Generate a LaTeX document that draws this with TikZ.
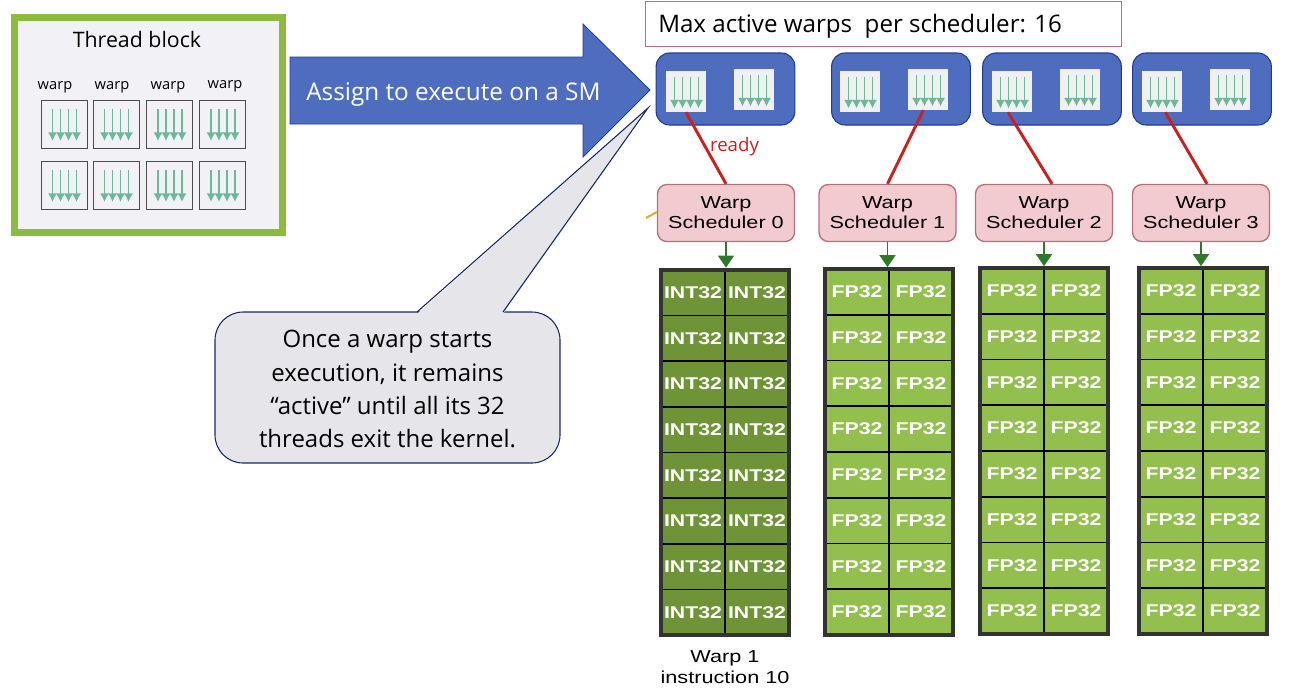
\documentclass[tikz,border=0pt]{standalone}
\usepackage{fontspec}
\setmainfont{Open Sans}
\newfontfamily\figfont[FakeStretch=1.25]{Liberation Sans}
\usepackage{tikz}
\usetikzlibrary{arrows.meta, fit}

\definecolor{slideblue}{HTML}{4F6DBF}
\definecolor{slidenavy}{HTML}{1F3A93}
\definecolor{threadgreen}{HTML}{6DB89A}
\definecolor{blockgreen}{HTML}{8CBC3F}
\definecolor{blockgrey}{HTML}{F2F1F5}
\definecolor{calloutgrey}{HTML}{E6E6EA}
\definecolor{intgreen}{HTML}{6F9438}
\definecolor{fpgreen}{HTML}{93BF4F}
\definecolor{schedpink}{HTML}{F2CBD0}
\definecolor{schedline}{HTML}{B5707E}
\definecolor{readyred}{HTML}{C9211E}
\definecolor{arrowgreen}{HTML}{2E7A28}
\definecolor{stubyellow}{HTML}{DAAA30}

\newcommand{\threadarrows}[1]{%
  \foreach \dx in {-11.5,-3.5,4.5,12.5}
    \draw[threadarrow] ([shift={(\dx,-15)}]#1.center) -- ([shift={(\dx,17)}]#1.center);
}

\begin{document}
\begin{tikzpicture}[
      x=0.75pt, y=-0.75pt,
      every node/.style={inner sep=0pt},
      threadarrow/.style={draw=threadgreen, line width=1.3pt, -{Latex[length=6.5pt,width=7pt]}},
      blocktile/.style={rectangle, draw=black!70, line width=0.7pt, minimum width=34.5pt, minimum height=36pt},
      smtile/.style={rectangle, fill=white!94!black, minimum width=30pt, minimum height=30.75pt},
      smbox/.style={rectangle, draw=slidenavy, line width=0.8pt, fill=slideblue, rounded corners=10pt, minimum width=104pt, minimum height=54pt},
      scheduler/.style={rectangle, draw=schedline, line width=1pt, fill=schedpink, rounded corners=7pt, minimum width=102.75pt, minimum height=42.75pt, align=center, font=\figfont\fontsize{13}{15}\selectfont},
      cell/.style={rectangle, outer sep=0pt, minimum width=48.4pt, minimum height=34.3pt, text=white, font=\figfont\bfseries\fontsize{12.75}{15}\selectfont},
      cellline/.style={draw=black, line width=1.3pt},
      gridframe/.style={rectangle, draw=black!80, line width=3pt, inner sep=0pt},
      readyline/.style={draw=readyred, line width=2.2pt},
      feedarrow/.style={draw=arrowgreen, line width=1.2pt, -{Triangle[length=9pt,width=12pt]}}
    ]
    \useasboundingbox (0,0) rectangle (1300,694);

    % Thread block
    \node[rectangle, draw=blockgreen, line width=5.25pt, fill=blockgrey, minimum width=201pt, minimum height=161.25pt] (block) at (148.5,125) {};
    \node[font=\fontsize{16}{19}\selectfont] (blocktitle) at (137,39) {Thread block};
    \foreach \c/\x/\lx/\ly in {1/64/55/87, 2/116/112/87, 3/169.5/168/87, 4/222.5/225/86} {
      \node[font=\fontsize{11}{13}\selectfont] (warplabel\c) at (\lx,\ly) {warp};
      \node[blocktile] (tile-1-\c) at (\x,124) {};
      \threadarrows{tile-1-\c}
      \node[blocktile] (tile-2-\c) at (\x,185) {};
      \threadarrows{tile-2-\c}
    }

    % Assign arrow
    \draw[draw=slidenavy, line width=0.6pt, fill=slideblue] (290,57) -- (583,57) -- (583,24) -- (650,90) -- (583,157) -- (583,124) -- (290,124) -- cycle;
    \node[anchor=west, text=white, font=\fontsize{18.25}{22}\selectfont] (assign) at (306,94) {Assign to execute on a SM};

    % Max active warps
    \node[rectangle, draw=schedline, line width=0.7pt, fill=white, minimum width=357pt, minimum height=33.75pt] (maxbox) at (883,23.5) {};
    \node[anchor=west, font=\fontsize{18.1}{22}\selectfont] (maxtext) at (658,26) {Max active warps\ \ per scheduler: 16};

    % SM boxes with two warps each
    \foreach \c/\x/\xa/\xb in {0/725.5/686/754, 1/901/860/928, 2/1052/1012/1080, 3/1202/1162/1230} {
      \node[smbox] (sm\c) at (\x,89) {};
      \node[smtile] (warpa\c) at (\xa,91.5) {};
      \threadarrows{warpa\c}
      \node[smtile] (warpb\c) at (\xb,89.5) {};
      \threadarrows{warpb\c}
    }

    % Callout
    \node[rectangle, draw=slidenavy!70!black, line width=0.8pt, fill=calloutgrey, rounded corners=21pt, minimum width=258.75pt, minimum height=113.25pt] (callout) at (387.5,387.5) {};
    \coordinate (wedgeleft) at (417,312);
    \coordinate (wedgeright) at (503,312);
    \coordinate (wedgetip) at (648,108);
    \fill[calloutgrey] ([yshift=-1.5pt]wedgeleft) -- (wedgetip) -- ([yshift=-1.5pt]wedgeright) -- cycle;
    \draw[draw=slidenavy!70!black, line width=0.8pt] (wedgeleft) -- (wedgetip) -- (wedgeright);
    \node[align=center, font=\fontsize{18}{24.8}\selectfont] (once) at (387.5,389) {Once a warp starts\\execution, it remains\\``active'' until all its 32\\threads exit the kernel.};

    % Warp schedulers
    \foreach \c/\x in {0/726, 1/887.5, 2/1044, 3/1201}
      \node[scheduler] (sched\c) at (\x,213) {Warp\\Scheduler \c};
    \coordinate (stub) at (646,218);
    \draw[draw=stubyellow, line width=1.5pt] (stub) -- (sched0.west |- 0,212);

    % Ready lines
    \draw[readyline] (warpa0.south) -- (sched0.north);
    \draw[readyline] ([xshift=-3.5pt]warpb1.south) -- (sched1.north);
    \draw[readyline] ([xshift=-3pt]warpa2.south) -- ([xshift=6pt]sched2.north);
    \draw[readyline] ([xshift=2.5pt]warpa3.south) -- ([xshift=4.5pt]sched3.north);
    \node[text=readyred, font=\fontsize{14}{16}\selectfont] (ready) at (734.5,146.5) {ready};

    % Register columns
    \foreach \c/\x/\ytop/\fillcol/\regname in {0/725/292.5/intgreen/INT32, 1/889/292/fpgreen/FP32, 2/1044/291/fpgreen/FP32, 3/1203/291/fpgreen/FP32} {
      \foreach \r in {1,...,8} {
        \pgfmathsetmacro{\celly}{\ytop+(\r-1)*45.7}
        \node[cell, fill=\fillcol] (cell-\c-\r-1) at (\x-32,\celly) {\regname};
        \node[cell, fill=\fillcol] (cell-\c-\r-2) at (\x+32,\celly) {\regname};
      }
      \foreach \r in {1,...,7}
        \draw[cellline] (cell-\c-\r-1.south west) -- (cell-\c-\r-2.south east);
      \draw[cellline] (cell-\c-1-1.north east) -- (cell-\c-8-1.south east);
      \node[gridframe, fit=(cell-\c-1-1)(cell-\c-8-2)] (grid\c) {};
      \draw[feedarrow] (sched\c.south) -- (sched\c.south |- grid\c.north);
    }

    \node[align=center, font=\figfont\fontsize{13}{15.75}\selectfont] (warpone) at (725,667) {Warp 1\\instruction 10};
\end{tikzpicture}
\end{document}
